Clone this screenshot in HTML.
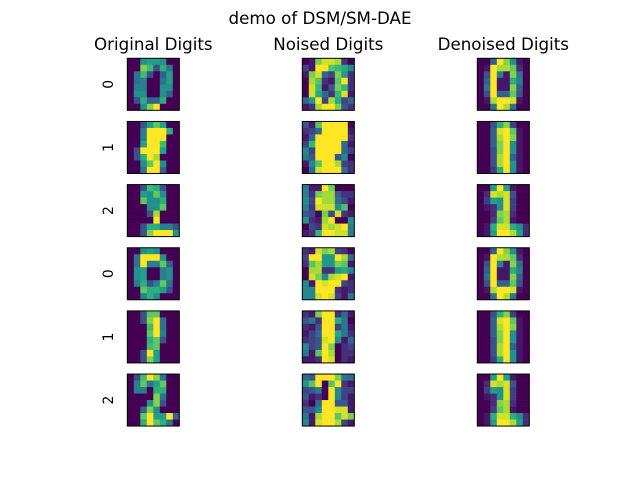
<!DOCTYPE html>
<html><head><meta charset="utf-8">
<style>
body{margin:0;background:#fff;}
svg{display:block;font-family:"DejaVu Sans","Liberation Sans",sans-serif;}
</style></head>
<body>
<svg id="fig" width="640" height="480" viewBox="0 0 640 480">
<rect width="640" height="480" fill="#fff"/>
<text x="320" y="24" font-size="16.7" text-anchor="middle">demo of DSM/SM-DAE</text>
<text x="153.3" y="50" font-size="16.7" text-anchor="middle">Original Digits</text>
<text x="328.3" y="50" font-size="16.7" text-anchor="middle">Noised Digits</text>
<text x="503.3" y="50" font-size="16.7" text-anchor="middle">Denoised Digits</text>
</svg>
<script>
const rowLabels=["0","1","2","0","1","2"];
const columnNames=["original","noised","denoised"];
const orig0=[[0,0,8,9,9,8,0,0],[0,0,13,11,4,10,6,0],[0,6,11,4,0,5,9,0],[0,6,7,0,0,6,9,0],[0,7,7,0,0,8,8,0],[0,8,8,0,0,8,5,0],[0,4,10,5,5,10,0,0],[0,0,8,13,16,0,0,0]];
const orig1=[[0,0,4,9,12,9,0,0],[0,0,7,16,16,16,10,0],[0,0,7,16,16,16,0,0],[0,0,9,16,16,11,0,0],[0,4,16,16,16,9,0,0],[0,4,10,16,14,0,0,0],[0,0,8,12,16,8,0,0],[0,0,6,16,16,5,0,0]];
const orig2=[[0,0,4,11,10,4,0,0],[0,0,9,8,12,8,0,0],[0,0,12,8,8,10,0,0],[0,0,0,8,8,12,0,0],[0,0,0,4,14,0,0,0],[0,0,0,0,16,0,0,0],[0,0,4,10,10,7,7,4],[0,0,4,13,16,16,16,8]];
const orig3=[[0,0,8,9,8,0,0,0],[0,6,16,16,16,8,0,0],[0,6,16,7,7,12,5,0],[0,8,9,0,0,7,8,0],[0,8,9,0,0,7,8,0],[0,7,10,4,7,12,6,0],[0,0,12,10,10,9,4,0],[0,0,7,10,8,0,0,0]];
const orig4=[[0,0,4,12,12,0,0,0],[0,0,4,13,16,6,0,0],[0,0,0,11,16,6,0,0],[0,0,0,12,16,7,0,0],[0,0,0,10,12,4,0,0],[0,0,0,11,12,0,0,0],[0,0,4,16,9,0,0,0],[0,0,4,13,9,0,0,0]];
const orig5=[[0,4,11,16,13,6,0,0],[0,7,12,6,9,12,0,0],[0,7,7,0,10,10,0,0],[0,0,0,0,13,6,0,0],[0,0,0,8,13,4,0,0],[0,0,5,13,8,0,0,0],[0,0,12,16,9,9,16,5],[0,0,10,16,12,10,6,0]];
const noise0=[[1,2,13,15,15,14,3,1],[4,2,16,16,12,11,10,8],[2,13,15,6,4,13,9,3],[1,14,12,3,2,12,16,3],[1,15,11,2,5,13,11,3],[1,15,10,6,3,11,15,2],[6,9,16,4,14,10,4,6],[2,3,14,16,16,13,5,3]];
const noise1=[[5,2,12,16,16,16,16,1],[3,4,6,16,16,16,16,2],[2,6,16,16,16,16,16,3],[4,11,16,16,16,16,6,2],[8,4,16,16,16,16,6,4],[7,5,16,16,16,5,8,1],[2,8,12,16,16,14,4,3],[1,6,15,16,16,16,6,3]];
const noise2=[[8,3,3,16,13,2,2,2],[8,4,13,14,14,6,4,4],[9,5,16,14,14,7,5,3],[8,4,15,15,15,9,12,2],[6,5,2,13,5,15,4,3],[9,4,3,14,16,2,2,9],[2,5,4,15,14,15,16,8],[3,4,11,16,16,15,15,8]];
const noise3=[[3,2,15,13,14,4,3,1],[4,16,16,9,9,16,14,6],[3,12,14,9,9,13,12,2],[1,14,14,3,3,9,10,8],[1,15,13,8,14,15,16,2],[8,2,16,15,16,16,4,3],[8,8,16,16,16,3,2,3],[8,8,15,16,15,4,2,7]];
const noise4=[[3,2,13,16,16,3,6,2],[5,7,3,16,16,10,7,1],[3,2,5,16,16,4,7,2],[2,4,6,16,16,10,7,3],[3,4,5,15,16,8,2,6],[8,4,5,16,13,1,3,4],[7,2,12,16,14,1,3,3],[2,2,3,16,15,1,3,2]];
const noise5=[[6,5,16,16,16,13,7,6],[9,12,16,1,12,16,3,2],[4,5,7,1,16,8,4,4],[5,2,3,1,16,8,4,2],[3,1,6,16,16,5,5,2],[5,5,8,16,16,15,15,2],[7,2,14,16,16,12,15,13],[8,2,15,16,16,14,4,2]];
const den0=[[0,0,5,16,13,8,1,0],[0,1,16,14,14,12,2,0],[0,4,16,7,1,13,6,0],[0,5,16,1,1,10,7,0],[0,6,16,1,1,13,5,0],[0,4,16,5,5,12,4,0],[0,1,14,16,16,15,1,0],[0,0,6,16,14,6,0,0]];
const den1=[[0,0,4,10,13,3,0,0],[0,0,5,15,16,12,1,0],[0,0,5,14,16,13,1,0],[0,0,5,13,16,8,1,0],[0,0,4,13,16,8,1,0],[0,0,4,14,16,5,1,0],[0,0,4,14,16,8,1,0],[0,0,3,10,16,8,1,0]];
const den2=[[0,0,9,16,9,1,0,0],[0,2,15,14,15,4,0,0],[0,3,9,8,15,3,0,0],[0,1,2,8,15,3,0,0],[0,0,2,13,14,2,0,0],[0,0,3,12,14,1,0,0],[0,1,10,15,15,10,8,2],[0,1,9,16,16,14,9,2]];
const grid=[[orig0,noise0,den0],[orig1,noise1,den1],[orig2,noise2,den2],[orig3,noise3,den0],[orig4,noise4,den1],[orig5,noise5,den2]];

const vir=[[68,1,84],[72,40,120],[62,73,137],[49,104,142],[38,130,142],[31,158,137],[53,183,121],[109,205,89],[180,222,44],[253,231,37]];
function cmap(t){t=Math.max(0,Math.min(1,t))*(vir.length-1);const i=Math.min(vir.length-2,Math.floor(t)),f=t-i;
 const c=vir[i].map((v,k)=>Math.round(v+(vir[i+1][k]-v)*f));return `rgb(${c[0]},${c[1]},${c[2]})`;}
const NS="http://www.w3.org/2000/svg";
const svg=document.getElementById('fig');
const colX=c=>127.3+c*175;
const rowY=r=>58.3+r*63.15;
const SIZE=52, cell=SIZE/8;
grid.forEach((row,r)=>{
  const lbl=document.createElementNS(NS,'text');
  
  
  const ly=rowY(r)+SIZE/2, lx=113;
  lbl.setAttribute('transform',`translate(${lx},${ly}) rotate(-90)`);
  lbl.setAttribute('text-anchor','middle');lbl.setAttribute('font-size','13.9');
  lbl.textContent=rowLabels[r];svg.appendChild(lbl);
  row.forEach((img,c)=>{
    const g=document.createElementNS(NS,'g');
    
    
    const flat=img.flat();const mn=Math.min(...flat),mx=Math.max(...flat);
    img.forEach((vals,i)=>vals.forEach((v,j)=>{
      const rc=document.createElementNS(NS,'rect');
      
      
      rc.setAttribute('x',colX(c)+j*cell);rc.setAttribute('y',rowY(r)+i*cell);
      rc.setAttribute('width',cell+0.3);rc.setAttribute('height',cell+0.3);
      rc.setAttribute('fill',cmap((v-mn)/((mx-mn)||1)));g.appendChild(rc);
    }));
    const b=document.createElementNS(NS,'rect');
    
    
    b.setAttribute('x',colX(c));b.setAttribute('y',rowY(r));b.setAttribute('width',SIZE);b.setAttribute('height',SIZE);
    b.setAttribute('fill','none');b.setAttribute('stroke','#000');b.setAttribute('stroke-width','1');
    g.appendChild(b);svg.appendChild(g);
  });
});
</script>
</body></html>
